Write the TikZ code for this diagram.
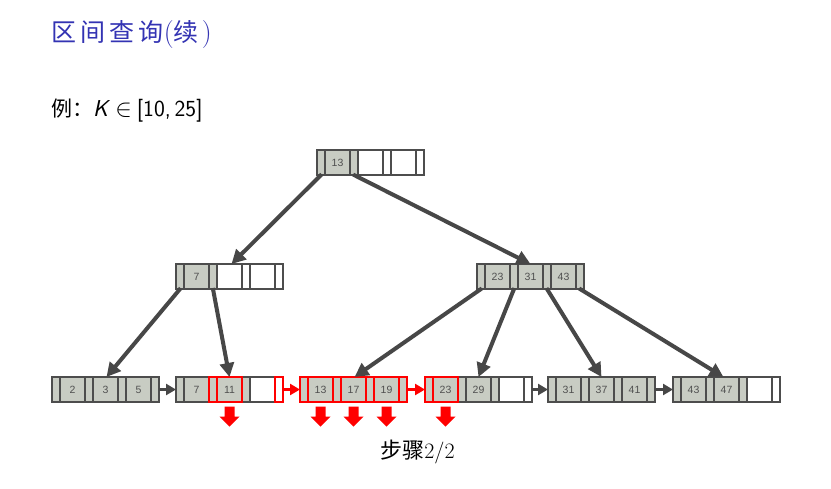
\documentclass[tikz,border=0pt]{standalone}
\usepackage{fontspec}
\newfontfamily\cjk{Noto Sans CJK SC}
\newfontfamily\cjkt[LetterSpace=17]{Noto Sans CJK SC}
\newfontfamily\keyfont{Liberation Sans}
\usetikzlibrary{arrows.meta,calc}
\definecolor{cgray}{HTML}{C8CCC3}
\definecolor{bgray}{HTML}{4D4D4D}
\definecolor{agray}{HTML}{474747}
\definecolor{tblue}{HTML}{3333B3}
\definecolor{ktext}{HTML}{505050}
\tikzset{
  cell/.style={draw=bgray, line width=2pt, inner sep=0pt, outer sep=0pt, minimum height=25pt,
    font=\keyfont\fontsize{10.5pt}{11pt}\selectfont, text=ktext},
  ptrcell/.style={cell, minimum width=8pt},
  keycell/.style={cell, minimum width=25pt},
  redcell/.style={draw=red, line width=2pt},
  treearrow/.style={draw=agray, line width=4pt, -{Triangle[length=14pt,width=14pt]}, shorten <=-1pt},
  leafarrow/.style={draw=agray, line width=3pt, -{Triangle[length=10pt,width=11pt]}},
  redleafarrow/.style={leafarrow, draw=red},
  downarrow/.style={fill=red},
}
\newcommand\bpn[9]{%
  \node[ptrcell,fill=#7,anchor=north west] (#1-p0) at (#2,#3) {};
  \node[keycell,fill=#7,anchor=west] (#1-k1) at (#1-p0.east) {#4};
  \node[ptrcell,fill=#7,anchor=west] (#1-p1) at (#1-k1.east) {};
  \node[keycell,fill=#8,anchor=west] (#1-k2) at (#1-p1.east) {#5};
  \node[ptrcell,fill=#8,anchor=west] (#1-p2) at (#1-k2.east) {};
  \node[keycell,fill=#9,anchor=west] (#1-k3) at (#1-p2.east) {#6};
  \node[ptrcell,fill=#9,anchor=west] (#1-p3) at (#1-k3.east) {};
}
\newcommand\redbox[1]{\draw[redcell] (#1.north west) rectangle (#1.south east);}
\newcommand\downarr[1]{%
  \fill[downarrow] ($(#1.south)+(-5,4.7)$) -- ($(#1.south)+(5,4.7)$) -- ($(#1.south)+(5,14.7)$)
    -- ($(#1.south)+(10,14.7)$) -- ($(#1.south)+(0,24.7)$) -- ($(#1.south)+(-10,14.7)$)
    -- ($(#1.south)+(-5,14.7)$) -- cycle;}
\begin{document}
\begin{tikzpicture}[x=1pt,y=-1pt]
\useasboundingbox[fill=white] (0,0) rectangle (831,488);
% title
\node[anchor=base west, inner sep=0pt, text=tblue, font=\fontsize{25pt}{30pt}\selectfont] (title) at (51,41)
  {{\cjkt 区间查询}{\fontsize{28pt}{30pt}\selectfont(}{\cjk 续}\hspace{3pt}{\fontsize{28pt}{30pt}\selectfont)}};
\node[anchor=base west, inner sep=0pt, font=\fontsize{21pt}{24pt}\selectfont] (example) at (51,116.7)
  {{\cjk 例：}{\fontsize{23pt}{24pt}\selectfont\textsf{\itshape K}\hspace{5pt}$\in$\hspace{5pt}\textsf{[10,\,25]}}};
% nodes
\bpn{root}{317}{150}{13}{}{}{cgray}{white}{white}
\bpn{li}{176}{264}{7}{}{}{cgray}{white}{white}
\bpn{ri}{477}{264}{23}{31}{43}{cgray}{cgray}{cgray}
\bpn{la}{52}{377}{2}{3}{5}{cgray}{cgray}{cgray}
\bpn{lb}{176}{377}{7}{11}{}{cgray}{cgray}{white}
\bpn{lc}{300}{377}{13}{17}{19}{cgray}{cgray}{cgray}
\bpn{ld}{425}{377}{23}{29}{}{cgray}{cgray}{white}
\bpn{le}{548}{377}{31}{37}{41}{cgray}{cgray}{cgray}
\bpn{lf}{673}{377}{43}{47}{}{cgray}{cgray}{white}
% red highlights
\redbox{lb-p1}\redbox{lb-k2}\redbox{lb-p3}
\redbox{lc-p0}\redbox{lc-k1}\redbox{lc-p1}\redbox{lc-k2}\redbox{lc-p2}\redbox{lc-k3}\redbox{lc-p3}
\redbox{ld-p0}\redbox{ld-k1}
% tree arrows
\draw[treearrow] (root-p0.south) -- ([xshift=2pt]li-k2.north);
\draw[treearrow] (root-p1.south) -- (ri-k2.north);
\draw[treearrow] (li-p0.south) -- ([xshift=1pt]la-k2.north);
\draw[treearrow] (li-p1.south) -- (lb-k2.north);
\draw[treearrow] (ri-p0.south) -- ([xshift=1pt]lc-k2.north);
\draw[treearrow] (ri-p1.south) -- (ld-k2.north);
\draw[treearrow] (ri-p2.south) -- (le-k2.north);
\draw[treearrow] (ri-p3.south) -- ([xshift=-3pt]lf-k2.north);
% leaf links
\draw[leafarrow] (la-p3.east) -- (lb-p0.west);
\draw[redleafarrow] (lb-p3.east) -- (lc-p0.west);
\draw[redleafarrow] (lc-p3.east) -- (ld-p0.west);
\draw[leafarrow] (ld-p3.east) -- (le-p0.west);
\draw[leafarrow] (le-p3.east) -- (lf-p0.west);
% red down arrows
\downarr{lb-k2}\downarr{lc-k1}\downarr{lc-k2}\downarr{lc-k3}\downarr{ld-k1}
% step label
\node[anchor=base, inner sep=0pt, font=\fontsize{22pt}{25pt}\selectfont] (step) at (417.5,458) {{\cjk 步骤}2/2};
\end{tikzpicture}
\end{document}
